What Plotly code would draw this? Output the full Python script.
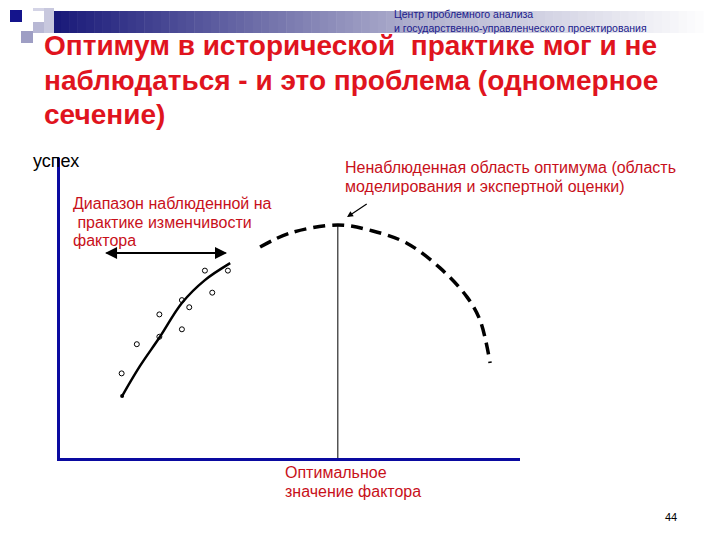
import plotly.graph_objects as go

# page is shown with the browser's 8px body margin; size the figure to the visible area
OFF = 8
W, H = 720 - 2 * OFF, 540 - 2 * OFF

# ---- data (factor on x, success on y; units 0..10) ----
obs_x = [1.34, 1.67, 2.16, 2.16, 2.65, 2.81, 2.65, 3.15, 3.65, 3.31]
obs_y = [2.84, 3.82, 4.82, 4.07, 5.30, 5.06, 4.32, 6.29, 6.29, 5.55]

fit_x = [1.35, 1.74, 2.17, 2.65, 3.15, 3.70]
fit_y = [2.08, 3.09, 4.06, 5.20, 5.97, 6.54]

model_x = [4.35, 5.00, 6.04, 6.80, 7.54, 8.26, 8.85, 9.13, 9.35]
model_y = [7.08, 7.55, 7.82, 7.62, 7.21, 6.38, 5.40, 4.63, 3.19]

opt_x = 6.04
opt_y = 7.82
range_x = [0.98, 3.63]
range_y = 6.88
arrow_tail = (6.70, 8.56)
arrow_head = (6.24, 8.09)

title_lines = ["Оптимум в исторической  практике мог и не",
               "наблюдаться - и это проблема (одномерное",
               "сечение)"]
header_lines = ["Центр проблемного анализа",
                "и государственно-управленческого проектирования"]
y_label = "успех"
range_label = ["Диапазон наблюденной на", " практике изменчивости", "фактора"]
model_label = ["Ненаблюденная область оптимума (область",
               "моделирования и экспертной оценки)"]
opt_label = ["Оптимальное", "значение фактора"]
page_no = "44"

FONT = "Liberation Sans, Arial, sans-serif"
RED = "#C8101A"
TRED = "#E0141E"
NAVY = "#1A1A8C"
AXIS = "#0A0AA0"


def px(x):
    return (x - OFF) / W


def py(y):
    return 1 - (y - OFF) / H


fig = go.Figure()

fig.add_trace(go.Scatter(x=model_x, y=model_y, mode="lines",
                         line=dict(color="black", width=3.5, dash="12px,7px", shape="spline"),
                         hoverinfo="skip"))
fig.add_trace(go.Scatter(x=fit_x, y=fit_y, mode="lines",
                         line=dict(color="black", width=2.5, shape="spline"),
                         hoverinfo="skip"))
fig.add_trace(go.Scatter(x=[fit_x[0]], y=[fit_y[0]], mode="markers",
                         marker=dict(color="black", size=4), hoverinfo="skip"))
fig.add_trace(go.Scatter(x=obs_x, y=obs_y, mode="markers",
                         marker=dict(symbol="circle-open", color="black", size=5,
                                     line=dict(width=1)),
                         hoverinfo="skip"))
fig.add_trace(go.Scatter(x=[opt_x, opt_x], y=[0, opt_y], mode="lines",
                         line=dict(color="black", width=1), hoverinfo="skip"))

# double arrow for observed range
for a, b in [(range_x[0], range_x[1]), (range_x[1], range_x[0])]:
    fig.add_annotation(x=b, y=range_y, ax=a, ay=range_y, xref="x", yref="y",
                       axref="x", ayref="y", text="", showarrow=True,
                       arrowhead=2, arrowsize=1.2, arrowwidth=2, arrowcolor="black")
fig.add_annotation(x=arrow_head[0], y=arrow_head[1], ax=arrow_tail[0], ay=arrow_tail[1],
                   xref="x", yref="y", axref="x", ayref="y", text="", showarrow=True,
                   arrowhead=2, arrowsize=1, arrowwidth=1.2, arrowcolor="black")

shapes = []
# gradient banner
x0, x1 = 44, 712
n = 80
for i in range(n):
    xa = x0 + (x1 - x0) * i / n
    xb = x0 + (x1 - x0) * (i + 1) / n + 0.5
    t = i / (n - 1)
    if t < 0.55:
        u = t / 0.55
        c0, c1 = (22, 22, 120), (175, 175, 205)
    else:
        u = (t - 0.55) / 0.45
        c0, c1 = (175, 175, 205), (255, 255, 255)
    col = tuple(int(c0[k] + (c1[k] - c0[k]) * u) for k in range(3))
    shapes.append(dict(type="rect", xref="paper", yref="paper",
                       x0=px(xa), x1=px(xb), y0=py(33), y1=py(11),
                       line=dict(width=0), fillcolor="rgb(%d,%d,%d)" % col, layer="below"))
# decorative squares
for (a, b, c, d, col) in [(33, 8, 46, 11, "#D4D4E6"), (44, 8, 54, 33, "#C8C8DE"),
                          (10, 10, 22, 22, "#14148C"), (21, 31, 33, 43, "#9E9EC4"),
                          (33, 22, 44, 33, "#B8B8D4")]:
    shapes.append(dict(type="rect", xref="paper", yref="paper",
                       x0=px(a), x1=px(c), y0=py(d), y1=py(b),
                       line=dict(width=0), fillcolor=col, layer="below"))
fig.update_layout(shapes=shapes)


def text(x, ys, lines, size, color, bold=False):
    for y, line in zip(ys, lines):
        t = "<b>" + line + "</b>" if bold else line
        fig.add_annotation(x=px(x), y=py(y), xref="paper", yref="paper", text=t,
                           showarrow=False, xanchor="left", yanchor="middle", align="left",
                           font=dict(family=FONT, size=size, color=color))


# header as one two-line block so the lines do not collide
fig.add_annotation(x=px(393), y=py(21.5), xref="paper", yref="paper",
                   text="<br>".join(header_lines), showarrow=False, xanchor="left",
                   yanchor="middle", align="left", borderpad=0,
                   font=dict(family=FONT, size=10.5, color=NAVY))
text(42, [46, 80, 114], title_lines, 28, TRED, bold=True)
text(31, [161], [y_label], 18, "black")
text(71, [203, 222, 241], range_label, 16, RED)
text(343, [167, 186], model_label, 16, RED)
text(283, [472, 491], opt_label, 16, RED)
text(663, [517], [page_no], 11, "black")

fig.update_layout(
    width=W, height=H, margin=dict(l=0, r=0, t=0, b=0),
    paper_bgcolor="white", plot_bgcolor="white", showlegend=False,
    xaxis=dict(domain=[px(60), px(520)], range=[0, 10], showgrid=False, zeroline=False,
               showticklabels=False, ticks="", showline=True, linecolor=AXIS, linewidth=3),
    yaxis=dict(domain=[py(458), py(158)], range=[0, 10.07], showgrid=False,
               zeroline=False, showticklabels=False, ticks="", showline=True,
               linecolor=AXIS, linewidth=3),
)

fig.write_html("out.html")
